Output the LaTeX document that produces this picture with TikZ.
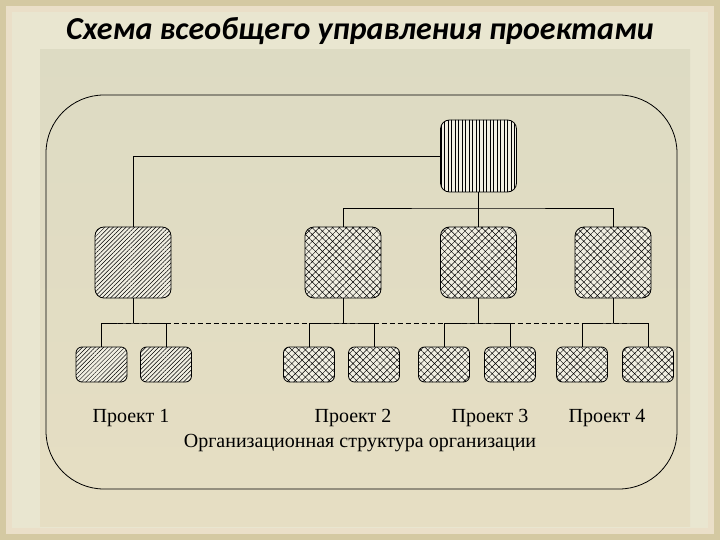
\documentclass[tikz,border=0pt]{standalone}
\usepackage{fontspec}
\setmainfont{Liberation Serif}
\newfontfamily\headfont{Carlito}
\usetikzlibrary{patterns.meta}
\definecolor{edgetan}{HTML}{D4C9A2}
\definecolor{rimlight}{HTML}{EADFC8}
\definecolor{bandlight}{HTML}{E9E6D0}
\definecolor{paneltop}{HTML}{DDDBC3}
\definecolor{panelmid}{HTML}{E9E6D0}
\definecolor{panelbot}{HTML}{E6DEC3}
\definecolor{boxfill}{HTML}{F1EFE2}
\begin{document}
\begin{tikzpicture}[x=1pt, y=-1pt, line width=0.8pt,
    unit/.style={draw, inner sep=0pt, preaction={fill=boxfill}},
    big/.style={unit, rounded corners=9pt, minimum width=76pt, minimum height=71pt},
    small/.style={unit, rounded corners=6pt, minimum width=51pt, minimum height=35pt},
    vhatch/.style={pattern={Lines[angle=90, distance=3.5pt, line width=0.5pt]}},
    dhatch/.style={pattern={Lines[angle=45, distance=3pt, line width=0.5pt]}},
    xhatch/.style={pattern={Hatch[angle=45, distance=4.8pt, line width=0.45pt]}},
    caption/.style={font=\fontsize{20}{22}\selectfont},
  ]
  \useasboundingbox (0,0) rectangle (720,540);
  % the slide background
  \fill[edgetan] (0,0) rectangle (720,540);
  \fill[rimlight] (6,6) rectangle (714,534);
  \fill[bandlight] (12,12) rectangle (708,528);
  \shade[top color=paneltop, middle color=panelmid, bottom color=panelbot]
    (40,50) rectangle (690,526);
  \node[font=\headfont\bfseries\itshape\fontsize{32}{36}\selectfont] (title)
    at (360,31) {Схема всеобщего управления проектами};
  % the organisation frame
  \node[draw, rounded corners=58pt, minimum width=631pt, minimum height=394pt,
        inner sep=0pt] (org) at (361.5,292) {};
  % Level 1: head of the organisation
  \node[big, vhatch, minimum height=72pt] (head) at (478.5,156) {};
  % Level 2: project 1 and the departments
  \node[big, dhatch] (p1) at (133,262.5) {};
  \node[big, xhatch] (d2) at (343,262.5) {};
  \node[big, xhatch] (d3) at (478.5,262.5) {};
  \node[big, xhatch] (d4) at (613,262.5) {};
  % Level 3: the units
  \node[small, dhatch] (u11) at (101.5,364.5) {};
  \node[small, dhatch] (u12) at (166,364.5) {};
  \node[small, xhatch] (u21) at (309,364.5) {};
  \node[small, xhatch] (u22) at (374,364.5) {};
  \node[small, xhatch] (u31) at (444,364.5) {};
  \node[small, xhatch] (u32) at (510,364.5) {};
  \node[small, xhatch] (u41) at (582,364.5) {};
  \node[small, xhatch] (u42) at (648,364.5) {};
  % connectors
  \coordinate (bus0) at (478.5,208);
  \coordinate (bus1) at (133,323);
  \coordinate (bus2) at (343,323);
  \coordinate (bus3) at (478.5,323);
  \coordinate (bus4) at (613,323);
  \draw (head.west) -| (p1.north);
  \draw (head.south) -- (d3.north);
  \draw (d2.north) |- (bus0) -| (d4.north);
  \draw[dash pattern=on 5pt off 3pt] (u11.north |- bus1) -- (u42.north |- bus1);
  \draw (p1.south) -- (bus1);
  \draw (u11.north) |- (bus1) -| (u12.north);
  \draw (d2.south) -- (bus2);
  \draw (u21.north) |- (bus2) -| (u22.north);
  \draw (d3.south) -- (bus3);
  \draw (u31.north) |- (bus3) -| (u32.north);
  \draw (d4.south) -- (bus4);
  \draw (u41.north) |- (bus4) -| (u42.north);
  % captions
  \node[caption] (c1) at (131,418) {Проект 1};
  \node[caption] (c2) at (353,418) {Проект 2};
  \node[caption] (c3) at (490,418) {Проект 3};
  \node[caption] (c4) at (607,418) {Проект 4};
  \node[caption] (corg) at (360,443) {Организационная структура организации};
\end{tikzpicture}
\end{document}
